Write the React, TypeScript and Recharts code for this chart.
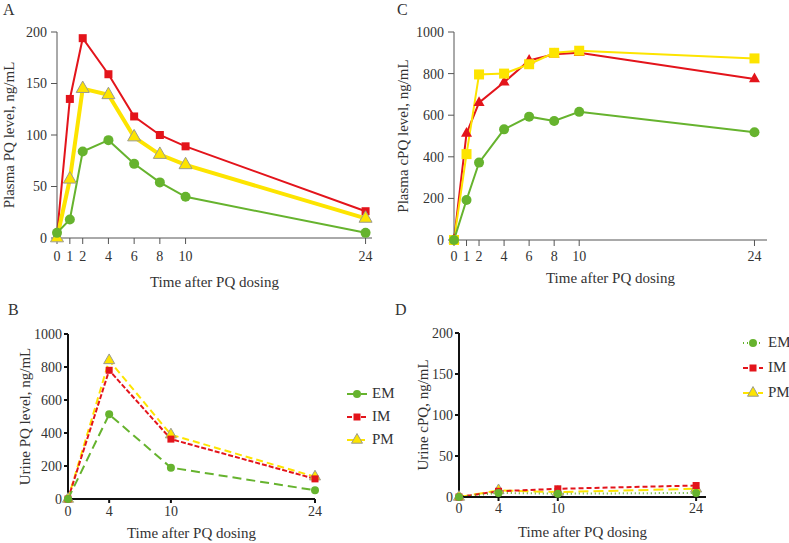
import { Label, Legend, Line, LineChart, XAxis, YAxis } from 'recharts'

const FONT = 'Liberation Serif, DejaVu Serif, serif'
const TEXT = '#333'
const GREEN = '#66b32e'
const RED = '#e3141b'
const YELLOW = '#fde400'
const EDGE = '#9b9b8e'

// plasma sampling (A, C)
const PLASMA_TIMES = [0, 1, 2, 4, 6, 8, 10, 24]
const PQ_EM = [5, 18, 84, 95, 72, 54, 40, 5]
const PQ_IM = [3, 135, 194, 159, 118, 100, 89, 26]
const PQ_PM = [0, 57, 145, 139, 98, 81, 71, 19]
const PQ_TICKS = [0, 50, 100, 150, 200]

const CPQ_EM = [0, 192, 372, 532, 593, 572, 616, 518]
const CPQ_IM = [0, 512, 660, 758, 863, 893, 900, 774]
const CPQ_PM = [0, 413, 796, 800, 845, 900, 910, 873]
const CPQ_TICKS = [0, 200, 400, 600, 800, 1000]

// urine sampling (B, D)
const URINE_TIMES = [0, 4, 10, 24]
const URINE_PQ_EM = [0, 513, 190, 53]
const URINE_PQ_IM = [0, 780, 363, 122]
const URINE_PQ_PM = [0, 840, 390, 135]
const URINE_PQ_TICKS = [0, 200, 400, 600, 800, 1000]

const URINE_CPQ_EM = [0, 5, 4, 5]
const URINE_CPQ_IM = [0, 7, 10, 14]
const URINE_CPQ_PM = [0, 8, 6, 10]
const URINE_CPQ_TICKS = [0, 50, 100, 150, 200]

type Kind = 'circle' | 'square' | 'triangle'

type Series = {
  key: 'em' | 'im' | 'pm'
  name: string
  color: string
  kind: Kind
  size: number
  width: number
  dash?: string
  edge?: string
}

function toRows(times: number[], em: number[], im: number[], pm: number[]) {
  return times.map((t, i) => ({ t, em: em[i], im: im[i], pm: pm[i] }))
}

function Marker({ kind, x, y, size, fill, edge }: { kind: Kind; x: number; y: number; size: number; fill: string; edge?: string }) {
  if (kind === 'circle') return <circle cx={x} cy={y} r={size / 2} fill={fill} />
  if (kind === 'square')
    return <rect x={x - size / 2} y={y - size / 2} width={size} height={size} fill={fill} />
  const h = size * 0.88
  return (
    <polygon
      points={`${x},${y - (h * 2) / 3} ${x - size / 2},${y + h / 3} ${x + size / 2},${y + h / 3}`}
      fill={fill}
      stroke={edge ?? 'none'}
      strokeWidth={1}
      strokeLinejoin="round"
    />
  )
}

function LegendBox({ items, rowHeight }: { items: Series[]; rowHeight: number }) {
  return (
    <div style={{ display: 'flex', flexDirection: 'column', fontFamily: FONT }}>
      {items.map((s) => (
        <div key={s.key} style={{ display: 'flex', alignItems: 'center', height: rowHeight }}>
          <svg width={20} height={14} style={{ display: 'block' }}>
            <line x1={0} y1={7} x2={20} y2={7} stroke={s.color} strokeWidth={2} strokeDasharray={s.dash} />
            <Marker kind={s.kind} x={10} y={7} size={s.size} fill={s.color} edge={s.edge} />
          </svg>
          <span style={{ marginLeft: 5, fontSize: 15, color: TEXT, lineHeight: '15px' }}>{s.name}</span>
        </div>
      ))}
    </div>
  )
}

type PanelProps = {
  left: number
  top: number
  width: number
  height: number
  plotTop: number
  plotRight: number
  yAxisWidth: number
  xAxisHeight: number
  data: ReturnType<typeof toRows>
  xMax: number
  xTicks: number[]
  yMax: number
  yTicks: number[]
  series: Series[]
  axisColor: string
  axisWidth: number
  xTickSize: number
  xTickGap: number
  yTickSize: number
  yTickGap: number
  xTitleY: number
  yTitleX: number
  yTitle: string
  legend?: { x: number; y: number; rowHeight: number; items: Series[] }
}

function Panel(p: PanelProps) {
  const plotW = p.width - p.yAxisWidth - p.plotRight
  const plotH = p.height - p.plotTop - p.xAxisHeight
  const xMid = p.yAxisWidth + plotW / 2
  const yMid = p.plotTop + plotH / 2
  const tick = { fill: TEXT, fontSize: 14, fontFamily: FONT }
  const axis = { stroke: p.axisColor, strokeWidth: p.axisWidth }

  return (
    <div style={{ position: 'absolute', left: p.left, top: p.top }}>
      <LineChart
        width={p.width}
        height={p.height}
        data={p.data}
        margin={{ top: p.plotTop, right: p.plotRight, bottom: 0, left: 0 }}
        style={{ fontFamily: FONT }}
      >
        <XAxis
          dataKey="t"
          type="number"
          domain={[0, p.xMax]}
          ticks={p.xTicks}
          interval={0}
          height={p.xAxisHeight}
          tick={tick}
          axisLine={axis}
          tickLine={axis}
          tickSize={p.xTickSize}
          tickMargin={p.xTickGap}
        >
          <Label
            content={() => (
              <text x={xMid} y={p.xTitleY} textAnchor="middle" fontSize={15} fill={TEXT} fontFamily={FONT}>
                Time after PQ dosing
              </text>
            )}
          />
        </XAxis>
        <YAxis
          type="number"
          domain={[0, p.yMax]}
          ticks={p.yTicks}
          interval={0}
          width={p.yAxisWidth}
          tick={tick}
          axisLine={axis}
          tickLine={axis}
          tickSize={p.yTickSize}
          tickMargin={p.yTickGap}
        >
          <Label
            content={() => (
              <text
                x={p.yTitleX}
                y={yMid}
                transform={`rotate(-90 ${p.yTitleX} ${yMid})`}
                textAnchor="middle"
                dominantBaseline="central"
                fontSize={15}
                fill={TEXT}
                fontFamily={FONT}
              >
                {p.yTitle}
              </text>
            )}
          />
        </YAxis>
        {p.legend && (
          <Legend
            layout="vertical"
            align="center"
            verticalAlign="middle"
            wrapperStyle={{ left: p.legend.x, top: p.legend.y, width: 60 }}
            content={() => <LegendBox items={p.legend!.items} rowHeight={p.legend!.rowHeight} />}
          />
        )}
        {p.series.map((s) => (
          <Line
            key={s.key}
            dataKey={s.key}
            name={s.name}
            type="linear"
            stroke={s.color}
            strokeWidth={s.width}
            strokeDasharray={s.dash}
            isAnimationActive={false}
            activeDot={false}
            dot={(d: any) => (
              <Marker
                key={`${s.key}-${d.index}`}
                kind={s.kind}
                x={d.cx}
                y={d.cy}
                size={s.size}
                fill={s.color}
                edge={s.edge}
              />
            )}
          />
        ))}
      </LineChart>
    </div>
  )
}

const letterStyle = (left: number, top: number): React.CSSProperties => ({
  position: 'absolute',
  left,
  top,
  fontSize: 16,
  lineHeight: '16px',
  color: TEXT,
  fontFamily: FONT,
})

export default function App() {
  // draw order: later series sit on top
  const seriesA: Series[] = [
    { key: 'im', name: 'IM', color: RED, kind: 'square', size: 8, width: 2 },
    { key: 'pm', name: 'PM', color: YELLOW, kind: 'triangle', size: 13, width: 4, edge: EDGE },
    { key: 'em', name: 'EM', color: GREEN, kind: 'circle', size: 10, width: 2 },
  ]
  const seriesC: Series[] = [
    { key: 'im', name: 'IM', color: RED, kind: 'triangle', size: 11, width: 2 },
    { key: 'pm', name: 'PM', color: YELLOW, kind: 'square', size: 10, width: 2 },
    { key: 'em', name: 'EM', color: GREEN, kind: 'circle', size: 10, width: 2 },
  ]
  const emB: Series = { key: 'em', name: 'EM', color: GREEN, kind: 'circle', size: 8, width: 2, dash: '9 5' }
  const imB: Series = { key: 'im', name: 'IM', color: RED, kind: 'square', size: 7, width: 2, dash: '5 2' }
  const pmB: Series = { key: 'pm', name: 'PM', color: YELLOW, kind: 'triangle', size: 11, width: 2, dash: '7 4', edge: EDGE }
  const emD: Series = { key: 'em', name: 'EM', color: GREEN, kind: 'circle', size: 8, width: 2, dash: '1 3' }
  const imD: Series = { key: 'im', name: 'IM', color: RED, kind: 'square', size: 7, width: 2, dash: '5 3' }
  const pmD: Series = { key: 'pm', name: 'PM', color: YELLOW, kind: 'triangle', size: 11, width: 2, dash: '10 5', edge: EDGE }

  return (
    <div style={{ position: 'absolute', left: 0, top: 0, width: 789, height: 543, background: '#fff', overflow: 'hidden', fontFamily: FONT }}>
      <Panel
        left={0}
        top={0}
        width={395}
        height={295}
        plotTop={32}
        plotRight={23}
        yAxisWidth={57}
        xAxisHeight={57}
        data={toRows(PLASMA_TIMES, PQ_EM, PQ_IM, PQ_PM)}
        xMax={24.5}
        xTicks={PLASMA_TIMES}
        yMax={200}
        yTicks={PQ_TICKS}
        series={seriesA}
        axisColor="#555"
        axisWidth={1}
        xTickSize={6}
        xTickGap={7}
        yTickSize={6}
        yTickGap={4}
        xTitleY={287}
        yTitleX={9}
        yTitle="Plasma PQ level, ng/mL"
      />
      <Panel
        left={395}
        top={0}
        width={394}
        height={295}
        plotTop={32}
        plotRight={22}
        yAxisWidth={59}
        xAxisHeight={55}
        data={toRows(PLASMA_TIMES, CPQ_EM, CPQ_IM, CPQ_PM)}
        xMax={25}
        xTicks={PLASMA_TIMES}
        yMax={1000}
        yTicks={CPQ_TICKS}
        series={seriesC}
        axisColor="#555"
        axisWidth={1}
        xTickSize={6}
        xTickGap={5}
        yTickSize={6}
        yTickGap={4}
        xTitleY={283}
        yTitleX={8}
        yTitle="Plasma cPQ level, ng/mL"
      />
      <Panel
        left={0}
        top={295}
        width={400}
        height={248}
        plotTop={39}
        plotRight={85}
        yAxisWidth={68}
        xAxisHeight={44}
        data={toRows(URINE_TIMES, URINE_PQ_EM, URINE_PQ_IM, URINE_PQ_PM)}
        xMax={24}
        xTicks={URINE_TIMES}
        yMax={1000}
        yTicks={URINE_PQ_TICKS}
        series={[pmB, imB, emB]}
        axisColor="#111"
        axisWidth={2}
        xTickSize={4}
        xTickGap={3}
        yTickSize={4}
        yTickGap={2}
        xTitleY={243}
        yTitleX={25}
        yTitle="Urine PQ level, ng/mL"
        legend={{ x: 347, y: 87, rowHeight: 23, items: [emB, imB, pmB] }}
      />
      <Panel
        left={395}
        top={295}
        width={394}
        height={248}
        plotTop={38}
        plotRight={83}
        yAxisWidth={64}
        xAxisHeight={46}
        data={toRows(URINE_TIMES, URINE_CPQ_EM, URINE_CPQ_IM, URINE_CPQ_PM)}
        xMax={25}
        xTicks={URINE_TIMES}
        yMax={200}
        yTicks={URINE_CPQ_TICKS}
        series={[pmD, imD, emD]}
        axisColor="#111"
        axisWidth={2}
        xTickSize={4}
        xTickGap={2}
        yTickSize={4}
        yTickGap={2}
        xTitleY={242}
        yTitleX={28}
        yTitle="Urine cPQ, ng/mL"
        legend={{ x: 348, y: 35, rowHeight: 25, items: [emD, imD, pmD] }}
      />
      <div style={letterStyle(3, 2)}>A</div>
      <div style={letterStyle(397, 2)}>C</div>
      <div style={letterStyle(8, 302)}>B</div>
      <div style={letterStyle(395, 302)}>D</div>
    </div>
  )
}
